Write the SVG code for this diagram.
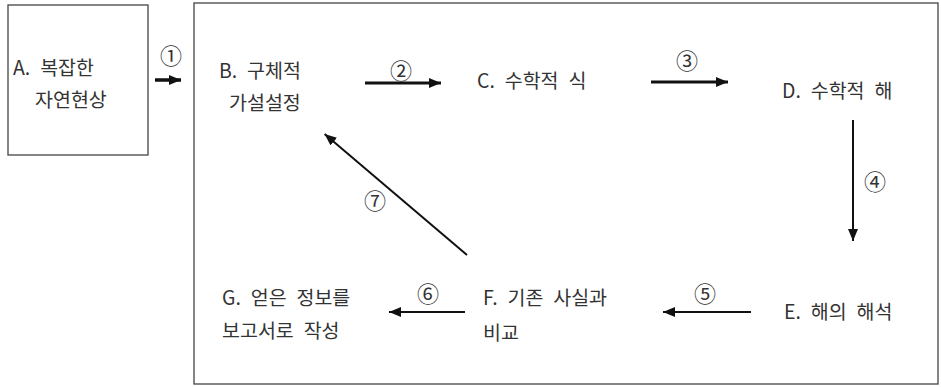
<svg xmlns="http://www.w3.org/2000/svg" width="941" height="387" viewBox="0 0 941 387">
<style>
.t{font-family:"Noto Sans CJK KR","Noto Sans",sans-serif;font-size:19.5px;fill:#333;word-spacing:5.5px}
.n{font-family:"Noto Sans CJK KR","Noto Sans",sans-serif;font-size:22px;fill:#333;text-anchor:middle}
.box{fill:#fff;stroke:#444;stroke-width:1.3}
.a{stroke:#111;fill:none}
</style>
<defs>
<marker id="h" markerUnits="userSpaceOnUse" markerWidth="13" markerHeight="11" refX="12" refY="5" orient="auto">
<path d="M0,0 L12,5 L0,10 z" fill="#111"/>
</marker>
</defs>
<rect width="941" height="387" fill="#fff"/>
<g id="frame"><rect class="box" x="194" y="3" width="744" height="381"/></g>
<g id="nodeA"><rect class="box" x="8" y="5" width="140" height="150"/>
<text class="t" x="13" y="75">A. 복잡한</text><text class="t" x="35" y="107">자연현상</text></g>
<g id="nodeB"><text class="t" x="219" y="78">B. 구체적</text><text class="t" x="229" y="110">가설설정</text></g>
<g id="nodeC"><text class="t" x="477" y="88">C. 수학적 식</text></g>
<g id="nodeD"><text class="t" x="782" y="98">D. 수학적 해</text></g>
<g id="nodeE"><text class="t" x="784" y="319">E. 해의 해석</text></g>
<g id="nodeF"><text class="t" x="483" y="305">F. 기존 사실과</text><text class="t" x="483" y="340">비교</text></g>
<g id="nodeG"><text class="t" x="222" y="305">G. 얻은 정보를</text><text class="t" x="222" y="338">보고서로 작성</text></g>
<g id="connectors">
<line class="a" x1="155" y1="80" x2="181" y2="80" stroke-width="3.5" marker-end="url(#h)"/>
<line class="a" x1="365" y1="83" x2="441" y2="83" stroke-width="3" marker-end="url(#h)"/>
<line class="a" x1="651" y1="82" x2="728" y2="82" stroke-width="3" marker-end="url(#h)"/>
<line class="a" x1="853" y1="120" x2="853" y2="241" stroke-width="2" marker-end="url(#h)"/>
<line class="a" x1="751" y1="312" x2="663" y2="312" stroke-width="2" marker-end="url(#h)"/>
<line class="a" x1="465" y1="312" x2="389" y2="312" stroke-width="2" marker-end="url(#h)"/>
<line class="a" x1="467" y1="255" x2="324.6" y2="133.9" stroke-width="2" marker-end="url(#h)"/>
<text class="n" x="171" y="64">①</text>
<text class="n" x="401" y="79">②</text>
<text class="n" x="687" y="69">③</text>
<text class="n" x="875" y="190">④</text>
<text class="n" x="705" y="302">⑤</text>
<text class="n" x="428" y="302">⑥</text>
<text class="n" x="375" y="209">⑦</text>
</g>
</svg>
